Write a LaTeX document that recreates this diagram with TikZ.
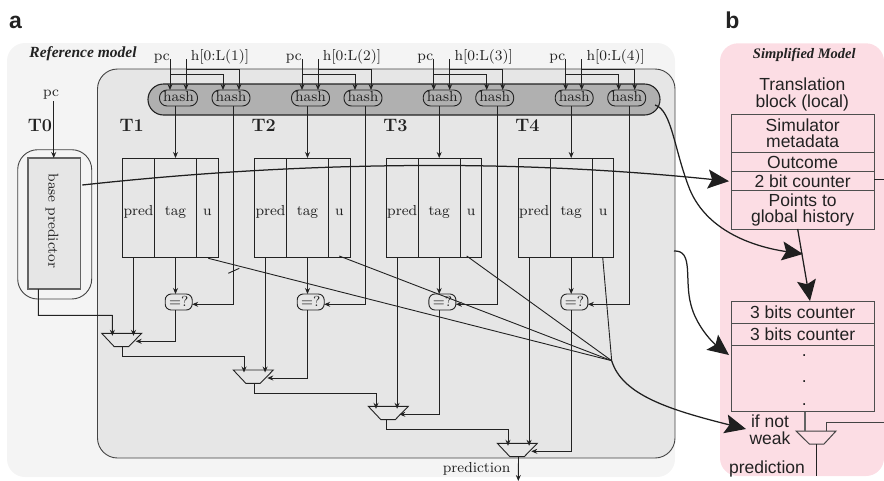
\documentclass[tikz,border=0pt]{standalone}
\usepackage{fontspec}
\usetikzlibrary{arrows.meta,calc}
\newfontfamily\rsans{Liberation Sans}
\newfontfamily\rserif{Liberation Serif}
\newfontfamily\lmfig{lmroman8-regular.otf}
\definecolor{outerg}{HTML}{F4F4F4}
\definecolor{innerg}{HTML}{E6E6E6}
\definecolor{barg}{HTML}{B0B0B0}
\definecolor{pinkbg}{HTML}{FCDDE4}
\definecolor{ink}{HTML}{222222}
\tikzset{
  wire/.style={draw=ink,line width=0.9pt},
  arr/.style={wire,-{Stealth[length=6pt,width=5pt,inset=2pt]}},
  bigarr/.style={draw=ink!90!black,line width=1.25pt,-{Stealth[length=21pt,width=19pt,inset=4pt]}},
  serif/.style={inner sep=0pt,outer sep=0pt,text=ink,font=\fontsize{14.5}{16}\selectfont\lmfig},
  blabel/.style={serif,anchor=base},
  tname/.style={inner sep=0pt,anchor=base,text=ink,font=\fontsize{18}{20}\selectfont\bfseries},
  hashnode/.style={serif,draw=ink,line width=0.9pt,fill=barg,rounded corners=7.5pt,minimum width=38pt,minimum height=16pt,text height=7pt,text depth=1pt},
  cmpnode/.style={serif,draw=ink,line width=0.9pt,fill=innerg,rounded corners=6pt,minimum width=27pt,minimum height=16pt,text height=10pt,text depth=0.6pt},
  cell/.style={serif,draw=ink,line width=0.9pt,minimum height=99.3pt,text height=15pt,text depth=0pt},
  rcell/.style={inner sep=0pt,outer sep=0pt,draw=ink!80,line width=1pt,minimum width=143.3pt,align=center,text=ink,font=\fontsize{17.5}{16.6}\selectfont\rsans},
  rtext/.style={inner sep=0pt,align=center,text=ink,font=\fontsize{17.5}{16.8}\selectfont\rsans},
  panel/.style={inner sep=0pt,text=ink,font=\fontsize{23}{25}\selectfont\rsans\bfseries,anchor=base},
}
% name, x of top left, y of top, shift of the inputs
\newcommand{\muxat}[4]{%
  \draw[wire,fill=innerg] (#2,#3) -- ++(40,0) -- ++(-13,13.3) -- ++(-14.5,0) -- cycle;
  \coordinate (#1l) at ({#2+10.7+#4},#3);
  \coordinate (#1r) at ({#2+31.8+#4},#3);
  \coordinate (#1s) at ({#2+34+#4},{#3+8});
  \coordinate (#1o) at ({#2+21.2+#4},{#3+13.3});
}
\begin{document}
\begin{tikzpicture}[x=1pt,y=-1pt]
\useasboundingbox (0,0) rectangle (884,480);
% panels
\fill[outerg,rounded corners=18pt] (7,43) rectangle (675,477);
\fill[pinkbg,rounded corners=18pt] (720,43.3) rectangle (884,476);
\node[panel] (lblA) at (15.5,28) {a};
\node[panel] (lblB) at (732.5,28) {b};
\draw[draw=ink!85,line width=0.9pt,fill=innerg,rounded corners=20pt] (97.5,69) rectangle (675,458);
\node[inner sep=0pt,text=ink,font=\fontsize{15.5}{18}\selectfont\rserif\bfseries\itshape] (refT) at (83,53.5) {Reference model};
\node[inner sep=0pt,text=ink,font=\fontsize{14.5}{18}\selectfont\rserif\bfseries\itshape] (simT) at (804.3,55) {Simplified Model};
\draw[draw=ink,line width=1.1pt,fill=barg,rounded corners=15.5pt] (148,84) rectangle (660,115);
% base predictor
\draw[draw=ink!85,line width=0.9pt,fill=outerg,rounded corners=20pt] (17.7,149.7) rectangle (91.7,299);
\node[draw=ink!70,line width=1.1pt,fill=innerg,minimum width=52.7pt,minimum height=131pt,inner sep=0pt,outer sep=0pt] (base) at (54.35,223.5) {};
\node[serif,rotate=-90] (baseT) at (52,221) {base predictor};
\node[blabel] (pc0) at (51,96.7) {pc};
\coordinate (pc0end) at (53.7,101);
\draw[arr] (pc0end) -- (pc0end |- base.north);
\node[tname] (T0) at (40,131.7) {T0};
% multiplexers
\muxat{m1}{101.7}{333.3}{0}
\muxat{m2}{233.3}{370}{0}
\muxat{m3}{368.3}{406.3}{-3}
\muxat{m4}{497.3}{443.3}{0}
% one predictor table after another
\foreach \i/\dx in {1/0,2/132,3/263.7,4/395.7}{
\begin{scope}[xshift=\dx pt]
  \node[hashnode] (ha\i) at (178.5,98) {hash};
  \node[hashnode] (hb\i) at (231,98) {hash};
  \node[blabel] (pcl\i) at (161.7,60) {pc};
  \node[blabel] (hl\i) at (220,60) {h[0:L(\i)]};
  \coordinate (pct\i) at (170,59);
  \coordinate (hct\i) at (186,59);
  \coordinate (pcj\i) at (170,74.5);
  \coordinate (hcj\i) at (186,69.5);
  \draw[arr] (pct\i) -- ([xshift=-8.5pt]ha\i.north);
  \draw[arr] (hct\i) -- ([xshift=7.5pt]ha\i.north);
  \draw[arr] (pcj\i) -| ([xshift=-8pt]hb\i.north);
  \draw[arr] (hcj\i) -| ([xshift=8pt]hb\i.north);
  \node[tname] (T\i) at (131.7,131.7) {T\i};
  \node[cell,minimum width=31.6pt] (p\i) at (138.5,207.65) {pred};
  \node[cell,minimum width=42.4pt] (g\i) at (175.5,207.65) {tag};
  \node[cell,minimum width=21.3pt] (u\i) at (207.35,207.65) {u};
  \node[cmpnode] (c\i) at (178.7,302) {=?};
  \draw[arr] (g\i.north |- ha\i.south) -- (g\i.north);
  \draw[arr] (g\i.south) -- (g\i.south |- c\i.north);
  \draw[arr] ([xshift=2.3pt]hb\i.south) |- ([yshift=-2.3pt]c\i.east);
\end{scope}
}
% table outputs into the multiplexers
\foreach \i in {1,2,3,4}{
  \draw[arr] (m\i r |- p\i.south) -- ([yshift=-2.5pt]m\i r);
  \draw[arr] (g\i.south |- c\i.south) |- (m\i s);
}
\draw[arr] (base.south -| 38.3,289) |- (112.3,315.3) -- ([yshift=-2.5pt]m1l);
\draw[arr] (m1o) -- ++(0,10) -| ([yshift=-2.5pt]m2l);
\draw[arr] (m2o) -- ++(0,10.4) -| ([yshift=-2.5pt]m3l);
\draw[arr] (m3o) -- ++(0,10.3) -| ([yshift=-2.5pt]m4l);
\coordinate (predEnd) at (518.3,481);
\draw[arr] (m4o) -- (predEnd);
\node[blabel] (predL) at (476.7,472.3) {prediction};
% update lines
\coordinate (conv) at (611.7,360.7);
\draw[wire] (208.3,258.3) -- (conv);
\draw[wire] (339.3,256) -- (conv);
\draw[wire] (466.7,256) -- (conv);
\draw[wire] (602.7,257.3) -- (conv);
\draw[wire] (228.3,273.3) -- (239.3,268.3);
% simplified model
\node[rtext] (transl) at (802.3,94.5) {Translation\\block (local)};
\node[rcell,minimum height=38pt] (meta) at (802.65,133.3) {Simulator\\metadata};
\node[rcell,minimum height=19.4pt] (outc) at (802.65,162) {Outcome};
\node[rcell,minimum height=19pt] (cnt) at (802.65,181.2) {2 bit counter};
\node[rcell,minimum height=38.3pt] (ptr) at (802.65,209.85) {Points to\\global history};
\node[rcell,minimum height=110pt] (gtab) at (802.65,356.7) {};
\node[rcell,minimum height=21.6pt] (c3a) at (802.65,312.5) {3 bits counter};
\node[rcell,minimum height=22.4pt] (c3b) at (802.65,334.5) {3 bits counter};
\node[rtext] (d1) at (804.3,356) {.};
\node[rtext] (d2) at (804.3,381.3) {.};
\node[rtext] (d3) at (804.3,405) {.};
\node[rtext] (ifnot) at (770,430) {if not\\weak};
\node[rtext] (predR) at (767,469) {prediction};
\draw[draw=ink!85,line width=1pt,fill=pinkbg] (796,431) -- (836,431) -- (824,444) -- (809.3,444) -- cycle;
\coordinate (rmT) at (805,431);
\coordinate (rmS) at (826.7,431);
\coordinate (rmO) at (816.7,444);
\coordinate (rEdge) at (884,422.7);
\coordinate (rEdgeB) at (816.7,476);
\coordinate (rEdgeC) at (884,179.7);
\draw[draw=ink!70,line width=1.2pt] (rmT |- gtab.south) -- (rmT);
\draw[draw=ink!85,line width=1pt] (rmS) |- (rEdge);
\draw[draw=ink,line width=1pt] (rmO) -- (rEdgeB);
\draw[draw=ink,line width=1pt] (cnt.east |- rEdgeC) -- (rEdgeC);
% long arrows
\coordinate (cvA) at (82.3,185);
\coordinate (cvB) at (655,105);
\coordinate (cvC) at (674,251);
\draw[bigarr] (cvA) .. controls (220,170) and (340,165) .. (450,165.5) .. controls (550,166) and (640,172) .. ([xshift=-2pt]cnt.west);
\draw[bigarr] (cvB) .. controls (672,110) and (674,150) .. (690,190) .. controls (708,232) and (755,247) .. (803,254);
\draw[bigarr] (cvC) .. controls (694,250) and (684,280) .. (691,305) .. controls (696,325) and (712,342) .. (729,355);
\draw[bigarr] (conv) .. controls (622,395) and (670,410) .. (746,429);
\draw[bigarr] ([xshift=-5pt]ptr.south) -- (810,301);
\end{tikzpicture}
\end{document}
